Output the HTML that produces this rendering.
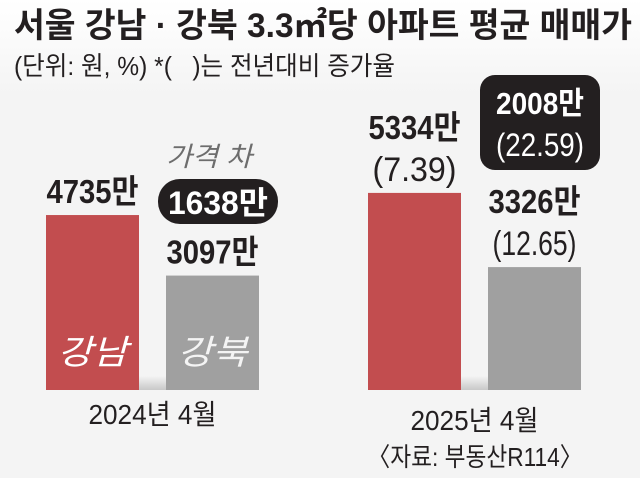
<!DOCTYPE html>
<html><head><meta charset="utf-8"><style>
html,body{margin:0;padding:0;background:#f4f4f4}
svg{display:block}
text{font-family:"Liberation Sans","Noto Sans CJK KR",sans-serif}
</style></head><body>
<svg id="chart" width="640" height="478" viewBox="0 0 640 478" xmlns="http://www.w3.org/2000/svg">
<defs>
<linearGradient id="bg" x1="0" y1="0" x2="0" y2="1"><stop offset="0" stop-color="#ffffff"/><stop offset="0.2" stop-color="#f4f4f4"/><stop offset="1" stop-color="#f4f4f4"/></linearGradient>
<linearGradient id="sh" x1="0" y1="0" x2="0" y2="1"><stop offset="0" stop-color="#f4f4f4"/><stop offset="1" stop-color="#c8c8c8"/></linearGradient>
</defs>
<rect x="0" y="0" width="640" height="478" fill="url(#bg)"/>
<text x="14" y="37" font-size="34" font-weight="bold" fill="#231f20" textLength="618" lengthAdjust="spacingAndGlyphs">서울 강남 · 강북 3.3㎡당 아파트 평균 매매가</text>
<text x="14" y="75" font-size="26" fill="#231f20" textLength="381" lengthAdjust="spacingAndGlyphs">(단위: 원, %) *(&#160;&#160;&#160;)는 전년대비 증가율</text>
<g id="marks"></g>
<rect x="158" y="179" width="120" height="45" rx="22" fill="#231f20"/>
<text x="209" y="166" font-size="27" font-style="italic" fill="#6d6d6d" text-anchor="middle" textLength="86" lengthAdjust="spacingAndGlyphs">가격 차</text>
<text x="218" y="214" font-size="32" font-weight="bold" fill="#fff" text-anchor="middle" textLength="100" lengthAdjust="spacingAndGlyphs">1638만</text>
<rect x="480" y="75" width="120" height="95" rx="15" fill="#231f20"/>
<text x="540" y="114" font-size="31" font-weight="bold" fill="#fff" text-anchor="middle" textLength="88" lengthAdjust="spacingAndGlyphs">2008만</text>
<text x="540" y="156" font-size="32" fill="#fff" text-anchor="middle" textLength="88" lengthAdjust="spacingAndGlyphs">(22.59)</text>
<text x="475" y="466" font-size="26" fill="#231f20" text-anchor="middle" textLength="215" lengthAdjust="spacingAndGlyphs">〈자료: 부동산R114〉</text>
</svg>
<script>
const groups = ["2024년 4월", "2025년 4월"];
const gangnam = [4735, 5334];
const gangbuk = [3097, 3326];
const gangnamRate = [null, "7.39"];
const gangbukRate = [null, "12.65"];

const NS = "http://www.w3.org/2000/svg";
const g = document.getElementById("marks");
const base = 390, k = 0.03695;
const y = v => base - v * k;
const groupX = [46, 368];
function mk(tag, attrs, parent) {
  const e = document.createElementNS(NS, tag);
  for (const a in attrs) e.setAttribute(a, attrs[a]);
  (parent || g).appendChild(e);
  return e;
}
groups.forEach((grp, i) => {
  const x0 = groupX[i], x1 = x0 + 120, w = 93;
  const sh = mk("rect", {x: x0 + w, y: base - 14, width: x1 - x0 - w, height: 14, fill: "url(#sh)"});
  
  
  const b1 = mk("rect", {x: x0, y: y(gangnam[i]), width: w, height: base - y(gangnam[i]), fill: "#c24d4f"});
  
  
  const b2 = mk("rect", {x: x1, y: y(gangbuk[i]), width: w, height: base - y(gangbuk[i]), fill: "#a0a0a0"});
  
  
  const c1 = x0 + w / 2, c2 = x1 + w / 2;
  function lbl(cx, top, val, rate, name) {
    let yy = top - 12;
    if (rate) {
      const r = mk("text", {x: cx, y: yy, "font-size": 34, fill: "#231f20", "text-anchor": "middle", textLength: 84, lengthAdjust: "spacingAndGlyphs"});
      r.textContent = "(" + rate + ")";
      
      
      yy -= 42;
    }
    const t = mk("text", {x: cx, y: yy, "font-size": 33, "font-weight": "bold", fill: "#231f20", "text-anchor": "middle", textLength: 92, lengthAdjust: "spacingAndGlyphs"});
    t.textContent = val + "만";
    
    
  }
  lbl(c1, y(gangnam[i]), gangnam[i], gangnamRate[i], 'gangnam');
  lbl(c2, y(gangbuk[i]), gangbuk[i], gangbukRate[i], 'gangbuk');
  if (i === 0) {
    const n1 = mk("text", {x: c1, y: 364, "font-size": 34, "font-style": "italic", fill: "#fff", "text-anchor": "middle", textLength: 70, lengthAdjust: "spacingAndGlyphs"});
    n1.textContent = "강남";
    
    
    const n2 = mk("text", {x: c2, y: 364, "font-size": 34, "font-style": "italic", fill: "#f4f4f4", "text-anchor": "middle", textLength: 70, lengthAdjust: "spacingAndGlyphs"});
    n2.textContent = "강북";
    
    
  }
  const gl = mk("text", {x: (x0 + x1 + w) / 2, y: i === 0 ? 424 : 430, "font-size": 28, fill: "#231f20", "text-anchor": "middle", textLength: 128, lengthAdjust: "spacingAndGlyphs"});
  gl.textContent = grp;
  
  
});
</script>
</body></html>
